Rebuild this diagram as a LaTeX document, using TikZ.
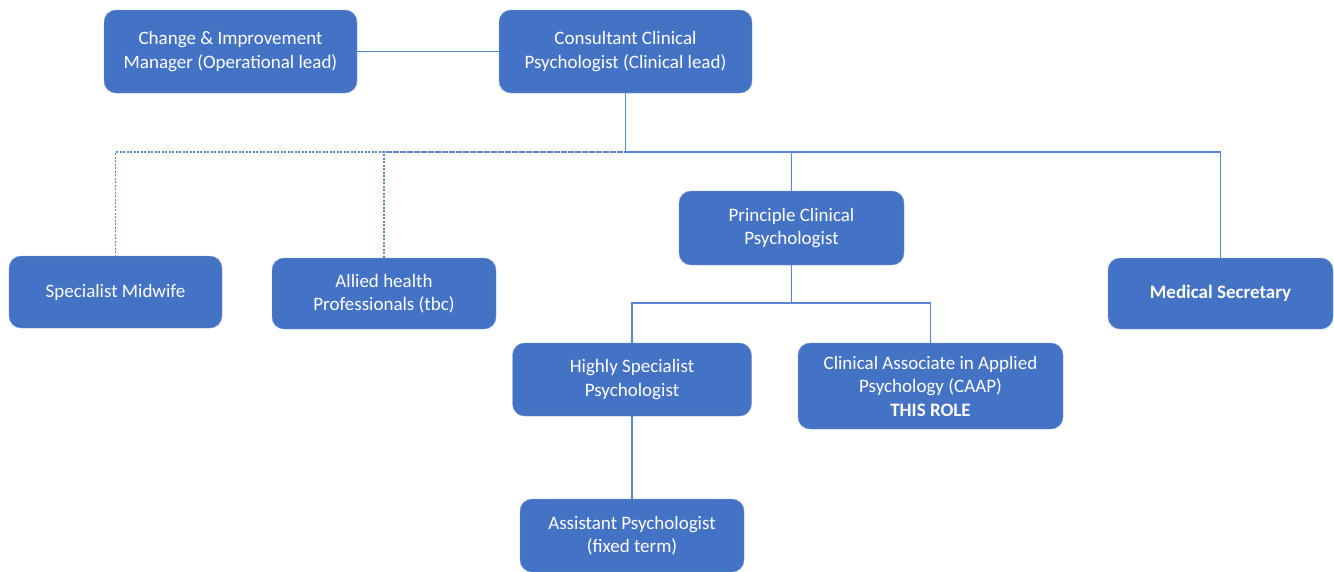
\documentclass[tikz,border=0pt]{standalone}
\usepackage{fontspec}
\setmainfont{Carlito}
\definecolor{boxblue}{HTML}{4472C4}
\definecolor{lineblue}{HTML}{5A86CF}
\begin{document}
\begin{tikzpicture}[x=1pt,y=-1pt,
  role/.style={draw=boxblue!70!white, fill=boxblue, rounded corners=12pt, text=white,
    align=center, font=\fontsize{19}{23.5}\selectfont, inner sep=0pt},
  link/.style={draw=lineblue, line width=1.1pt},
  dotlink/.style={link, dash pattern=on 2pt off 1.5pt}]
\useasboundingbox (0,0) rectangle (1334,571);
% Org chart boxes
\node[role, minimum width=253pt, minimum height=83pt] (chg) at (230.5,51.5) {Change \& Improvement\\Manager (Operational lead)};
\node[role, minimum width=253pt, minimum height=83pt] (cons) at (625.5,51.5) {Consultant Clinical\\Psychologist (Clinical lead)};
\node[role, minimum width=213pt, minimum height=72pt] (mid) at (115.5,292) {Specialist Midwife};
\node[role, minimum width=224pt, minimum height=71pt] (ahp) at (384,293.5) {Allied health\\Professionals (tbc)};
\node[role, minimum width=225pt, minimum height=74pt] (pcp) at (791.5,228) {Principle Clinical\\Psychologist};
\node[role, minimum width=225pt, minimum height=71pt] (sec) at (1220.5,293.5) {\textbf{Medical Secretary}};
\node[role, minimum width=239pt, minimum height=73pt] (hsp) at (632,379.5) {Highly Specialist\\Psychologist};
\node[role, minimum width=265pt, minimum height=86pt] (caap) at (930.5,386) {Clinical Associate in Applied\\Psychology (CAAP)\\\textbf{THIS ROLE}};
\node[role, minimum width=224pt, minimum height=73pt] (ap) at (632,535.5) {Assistant Psychologist\\(fixed term)};
% junctions
\coordinate (top) at (cons.south |- 0,152);
\coordinate (mida) at (pcp.south |- 0,303);
% connectors
\draw[link] (chg.east) -- (cons.west);
\draw[link] (cons.south) -- (top);
\draw[dotlink] (top) -| (mid.north);
\draw[dotlink] (ahp.north) |- (top);
\draw[link] (top) -| (sec.north);
\draw[link] (pcp.north) -- (pcp.north |- top);
\draw[link] (pcp.south) -- (mida) -| (hsp.north);
\draw[link] (mida) -| (caap.north);
\draw[link] (hsp.south) -- (ap.north);
\end{tikzpicture}
\end{document}
